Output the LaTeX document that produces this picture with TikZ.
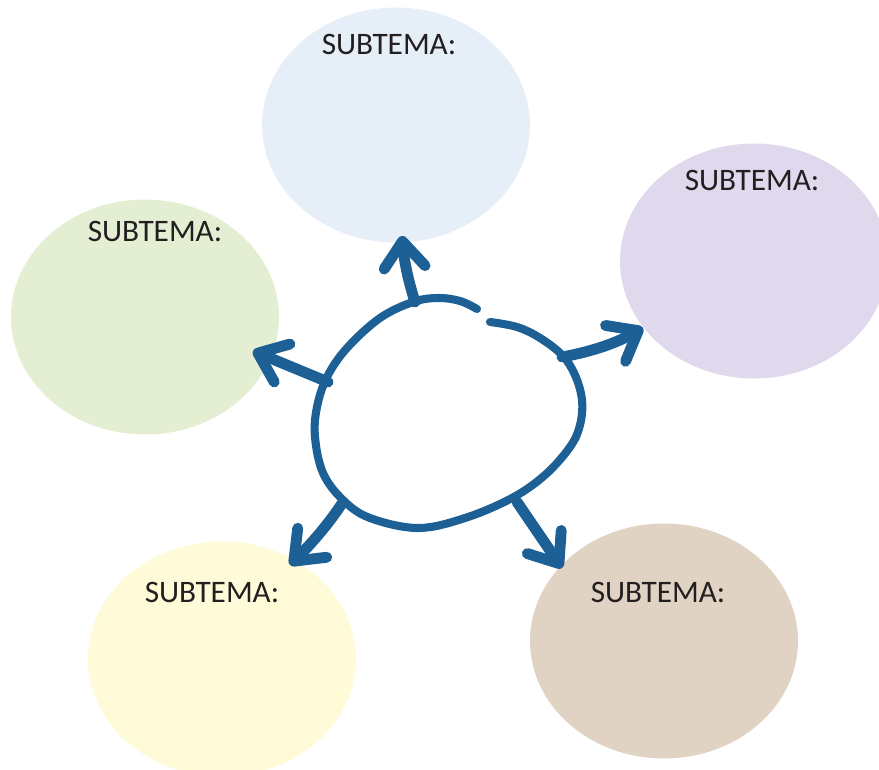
\documentclass[tikz,border=0pt]{standalone}
\usepackage{fontspec}
\setmainfont{Carlito}
\usepackage{tikz}
\usetikzlibrary{arrows.meta,shapes.geometric}
\definecolor{ink}{HTML}{1C6095}
\definecolor{labelgray}{HTML}{231F20}
\definecolor{subBlue}{HTML}{E6EEF8}
\definecolor{subLilac}{HTML}{E0D8EC}
\definecolor{subGreen}{HTML}{E3EED3}
\definecolor{subYellow}{HTML}{FFFAD7}
\definecolor{subTan}{HTML}{E1D3C3}

\tikzset{
  bubble/.style={ellipse, draw=none, inner sep=0pt, minimum width=5.36cm, minimum height=4.7cm},
  sublabel/.style={anchor=base, inner sep=0pt, text=labelgray, font=\fontsize{17.8}{20}\selectfont},
  outline/.style={draw=ink, line width=4.6pt, line cap=round, line join=round},
  branch/.style={draw=ink, line width=6.2pt, line cap=round,
    -{Straight Barb[length=0.52cm, width=0.82cm, round]}},
}

\begin{document}
\begin{tikzpicture}[x=0.02cm, y=-0.02cm]
        \useasboundingbox (0,0) rectangle (879,770);
        \clip (0,0) rectangle (879,770);
        % Subtopic bubbles
        \node[bubble, fill=subBlue]   (bubTop)   at (396,125) {};
        \node[bubble, fill=subLilac]  (bubRight) at (754,261) {};
        \node[bubble, fill=subGreen]  (bubLeft)  at (145,317) {};
        \node[bubble, fill=subYellow] (bubLow)   at (222,659) {};
        \node[bubble, fill=subTan]    (bubShore) at (664,641) {};
        % Labels
        \node[sublabel] (labTop)   at (389,55)  {SUBTEMA:};
        \node[sublabel] (labRight) at (752,191) {SUBTEMA:};
        \node[sublabel] (labLeft)  at (155,242) {SUBTEMA:};
        \node[sublabel] (labLow)   at (212,602) {SUBTEMA:};
        \node[sublabel] (labShore) at (658,602) {SUBTEMA:};
        % Central hand-drawn loop (open at the top)
        \draw[outline] plot[smooth, tension=0.6] coordinates {
          (490,322) (517,327) (540,338) (562,355) (575,375) (582,400)
          (580,425) (570,447) (545,475) (512,498) (465,518) (418,528)
          (370,518) (343,500) (323,473) (315,437) (317,407) (327,377)
          (347,348) (380,318) (413,302) (438,298) (460,301) (477,309)};
        % Arrow ends
        \coordinate (topTail)   at (415,302);
        \coordinate (topTip)    at (402,236);
        \coordinate (rightTail) at (562,357);
        \coordinate (rightTip)  at (643,328);
        \coordinate (leftTail)  at (328,382);
        \coordinate (leftTip)   at (253,351);
        \coordinate (lowTail)   at (343,502);
        \coordinate (lowTip)    at (290,565);
        \coordinate (shoreTail) at (517,502);
        \coordinate (shoreTip)  at (562,568);
        % Arrows
        \draw[branch] (topTail) .. controls (408,280) and (404,260) .. (topTip);
        \draw[branch] (rightTail) .. controls (595,351) and (618,342) .. (rightTip);
        \draw[branch] (leftTail) -- (leftTip);
        \draw[branch] (lowTail) .. controls (328,525) and (310,545) .. (lowTip);
        \draw[branch] (shoreTail) -- (shoreTip);
      \end{tikzpicture}
\end{document}
